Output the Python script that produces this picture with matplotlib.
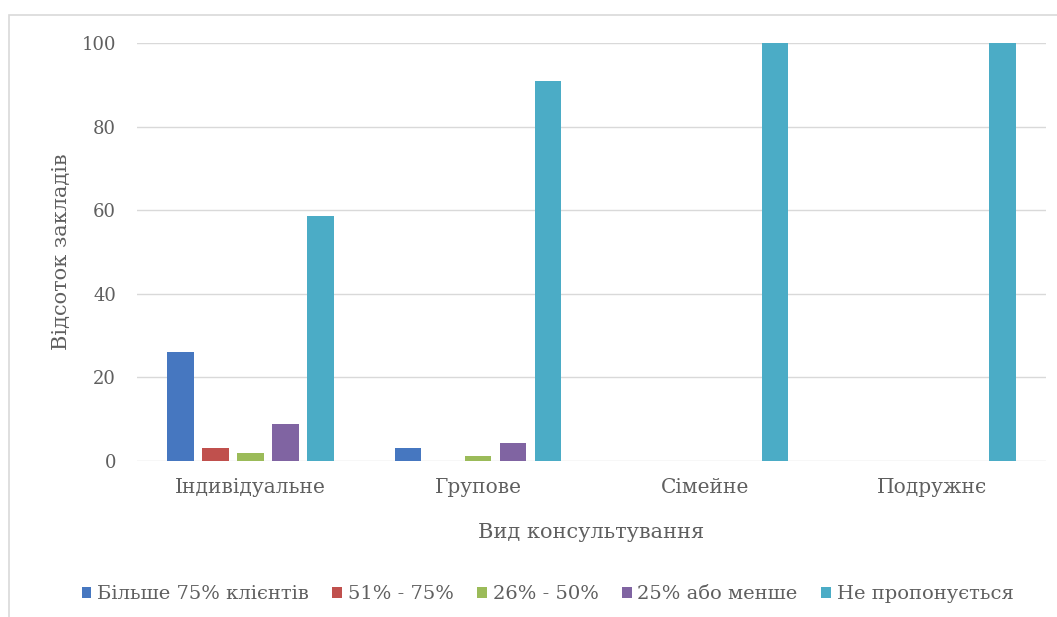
import matplotlib
matplotlib.use("Agg")
import matplotlib.pyplot as plt
import numpy as np
from matplotlib.patches import Rectangle

categories = ["Індивідуальне", "Групове", "Сімейне", "Подружнє"]
series_names = ["Більше 75% клієнтів", "51% - 75%", "26% - 50%", "25% або менше", "Не пропонується"]
more_75 = [26.0, 3.2, 0, 0]
from_51_75 = [3.2, 0, 0, 0]
from_26_50 = [1.8, 1.2, 0, 0]
under_25 = [8.8, 4.3, 0, 0]
not_offered = [58.7, 90.9, 100, 100]
colors = ["#4677C0", "#C0504D", "#9BBB59", "#8064A2", "#4BACC6"]
yticks = [0, 20, 40, 60, 80, 100]

text_color = "#5F5F5F"
plt.rcParams["font.family"] = ["DejaVu Serif"]

fig = plt.figure(figsize=(10.57, 6.17), dpi=100)
fig.patches.append(Rectangle((9 / 1057, -0.01), 1.0, 1 - 15 / 617 + 0.01,
                             transform=fig.transFigure, fill=False,
                             edgecolor="#D9D9D9", linewidth=1.2))

ax = fig.add_axes([137 / 1057, 1 - 461 / 617, (1046 - 137) / 1057, (461 - 43) / 617])

all_series = [more_75, from_51_75, from_26_50, under_25, not_offered]
x = np.arange(len(categories))
pitch = 0.154
width = 0.117
for i, (vals, name, col) in enumerate(zip(all_series, series_names, colors)):
    ax.bar(x + (i - 2) * pitch, vals, width=width, color=col, label=name, zorder=3)

ax.set_xlim(-0.5, len(categories) - 0.5)
ax.set_ylim(0, 100)
ax.set_yticks(yticks)
ax.set_xticks(x)
ax.set_xticklabels(categories)
ax.grid(axis="y", color="#D9D9D9", linewidth=1.0, zorder=0)
for s in ax.spines.values():
    s.set_visible(False)
ax.tick_params(axis="y", length=0, colors=text_color, labelsize=13, pad=15)
ax.tick_params(axis="x", length=0, colors=text_color, labelsize=14.5, pad=12)

ax.set_xlabel("Вид консультування", color=text_color, fontsize=15, labelpad=19)
ax.set_ylabel("Відсоток закладів", color=text_color, fontsize=15, labelpad=8)

fig.legend(loc="center", bbox_to_anchor=(0.518, 1 - 594 / 617), ncol=5, frameon=False,
           fontsize=14, handlelength=0.5, handleheight=0.5, handletextpad=0.3,
           columnspacing=1.2, labelcolor=text_color)

fig.savefig("out.png", dpi=100)
